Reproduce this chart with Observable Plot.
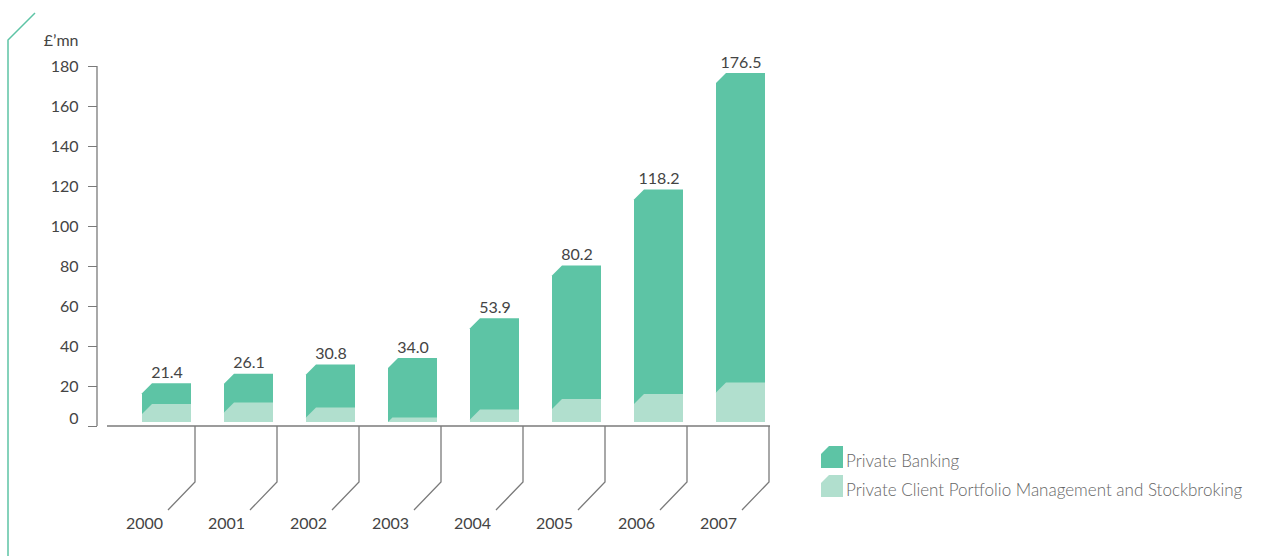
<!DOCTYPE html>
<html><head><meta charset="utf-8">
<script src="https://cdn.jsdelivr.net/npm/d3@7"></script>
<script src="https://cdn.jsdelivr.net/npm/@observablehq/plot@0.6"></script>
<style>body{margin:0;background:#fff;} svg{display:block}</style>
</head><body><div id="chart"></div>
<script>
const years = ["2000","2001","2002","2003","2004","2005","2006","2007"];
const totalValues = [21.4, 26.1, 30.8, 34.0, 53.9, 80.2, 118.2, 176.5];
const clientValues = [11.0, 11.8, 9.2, 4.2, 8.2, 13.5, 16.0, 21.8];
const yTicks = [0, 20, 40, 60, 80, 100, 120, 140, 160, 180];
const seriesNames = ["Private Banking", "Private Client Portfolio Management and Stockbroking"];
const unitLabel = "£’mn";

const DARK = "#5dc4a5", LIGHT = "#b1dfce", AXIS = "#7a7a7a", GREEN = "#5dc4a5";
const FONT = "Lato, 'Open Sans', sans-serif";
const rows = years.map((year, i) => ({year, total: totalValues[i], client: clientValues[i]}));

function chamferPath(x, y, w, h, c) {
  c = Math.max(0, Math.min(c, h, w));
  return `M${x},${y + c}L${x + c},${y}L${x + w},${y}L${x + w},${y + h}L${x},${y + h}Z`;
}

function chamfer(size) {
  return function (index, scales, values, dims, context, next) {
    const g = next(index, scales, values, dims, context);
    d3.select(g).selectAll("rect").each(function () {
      const r = d3.select(this);
      const x = +r.attr("x"), y = +r.attr("y"), w = +r.attr("width"), h = +r.attr("height");
      const p = d3.select(this.parentNode).insert("path", () => this)
        .attr("d", chamferPath(x, y, w, h, size));
      if (r.attr("fill")) p.attr("fill", r.attr("fill"));
      r.remove();
    });
    return g;
  };
}

function decorations(index, scales, values, dims) {
  const {width, height, marginLeft, marginRight} = dims;
  const x = scales.x, y = scales.y;
  const bw = x.bandwidth ? x.bandwidth() : 49;
  const g = d3.create("svg:g");
  const base = y(0), left = marginLeft, right = width - marginRight;
  // left decoration
  g.append("path").attr("d", `M35,13L8,40L8,${height}`)
    .attr("fill", "none").attr("stroke", GREEN).attr("stroke-width", 1.5);
  // y axis line
  g.append("line").attr("x1", left - 10).attr("x2", left - 10)
    .attr("y1", y(d3.max(yTicks))).attr("y2", base)
    .attr("stroke", AXIS).attr("stroke-width", 1.3);
  // baseline
  g.append("line").attr("x1", left).attr("x2", right).attr("y1", base).attr("y2", base)
    .attr("stroke", AXIS).attr("stroke-width", 1.3);
  // connectors
  for (const yr of years) {
    const vx = x(yr) + bw + 4;
    g.append("path").attr("d", `M${vx},${base}V${base + 56}L${vx - 27},${base + 84}`)
      .attr("fill", "none").attr("stroke", AXIS).attr("stroke-width", 1.3);
  }
  // legend
  const lx = right + 51;
  const items = [[seriesNames[0], DARK, base + 20], [seriesNames[1], LIGHT, base + 49]];
  for (const [name, color, top] of items) {
    g.append("path").attr("d", chamferPath(lx, top, 22, 22, 8)).attr("fill", color);
    g.append("text").attr("x", lx + 25).attr("y", top + 21)
      .attr("text-anchor", "start")
      .attr("font-family", FONT).attr("font-size", 17).attr("font-weight", 300)
      .attr("fill", "#666").text(name);
  }
  return g.node();
}

const fmt = d3.format(".1f");

const chart = Plot.plot({
  width: 1286, height: 556,
  marginLeft: 107, marginRight: 516, marginTop: 66, marginBottom: 130,
  style: {fontFamily: FONT, fontSize: "16px", color: "#4a4a4a", background: "#fff"},
  x: {type: "band", domain: years, paddingInner: 0.405, paddingOuter: 0.23, align: 0.88, axis: null},
  y: {domain: [0, 180], axis: null},
  marks: [
    Plot.barY(rows, {x: "year", y: "total", fill: DARK, insetBottom: 4, render: chamfer(10)}),
    Plot.barY(rows, {x: "year", y: "client", fill: LIGHT, insetBottom: 4, render: chamfer(10)}),
    Plot.text(rows, {x: "year", y: "total", text: d => fmt(d.total), dy: -11, fill: "#444", fontSize: 16}),
    Plot.axisY({ticks: yTicks, tickSize: 9, tickPadding: 10, dx: -10, label: null,
      tickFormat: d => d === 0 ? "" : d, stroke: AXIS, fill: "#444", fontSize: 16}),
    Plot.text([0], {y: d => d, text: d => String(d), frameAnchor: "left", dx: -29, dy: -8,
      textAnchor: "end", lineAnchor: "middle", fill: "#444", fontSize: 16}),
    Plot.text(years, {x: d => d, text: d => d, frameAnchor: "bottom", dy: 97, dx: -4,
      textAnchor: "end", lineAnchor: "middle", fill: "#444", fontSize: 16}),
    Plot.text([unitLabel], {text: d => d, frameAnchor: "top-left", dx: -29, dy: -26,
      textAnchor: "end", lineAnchor: "middle", fill: "#444", fontSize: 16}),
    decorations
  ]
});
document.getElementById("chart").append(chart);
</script>
</body></html>
